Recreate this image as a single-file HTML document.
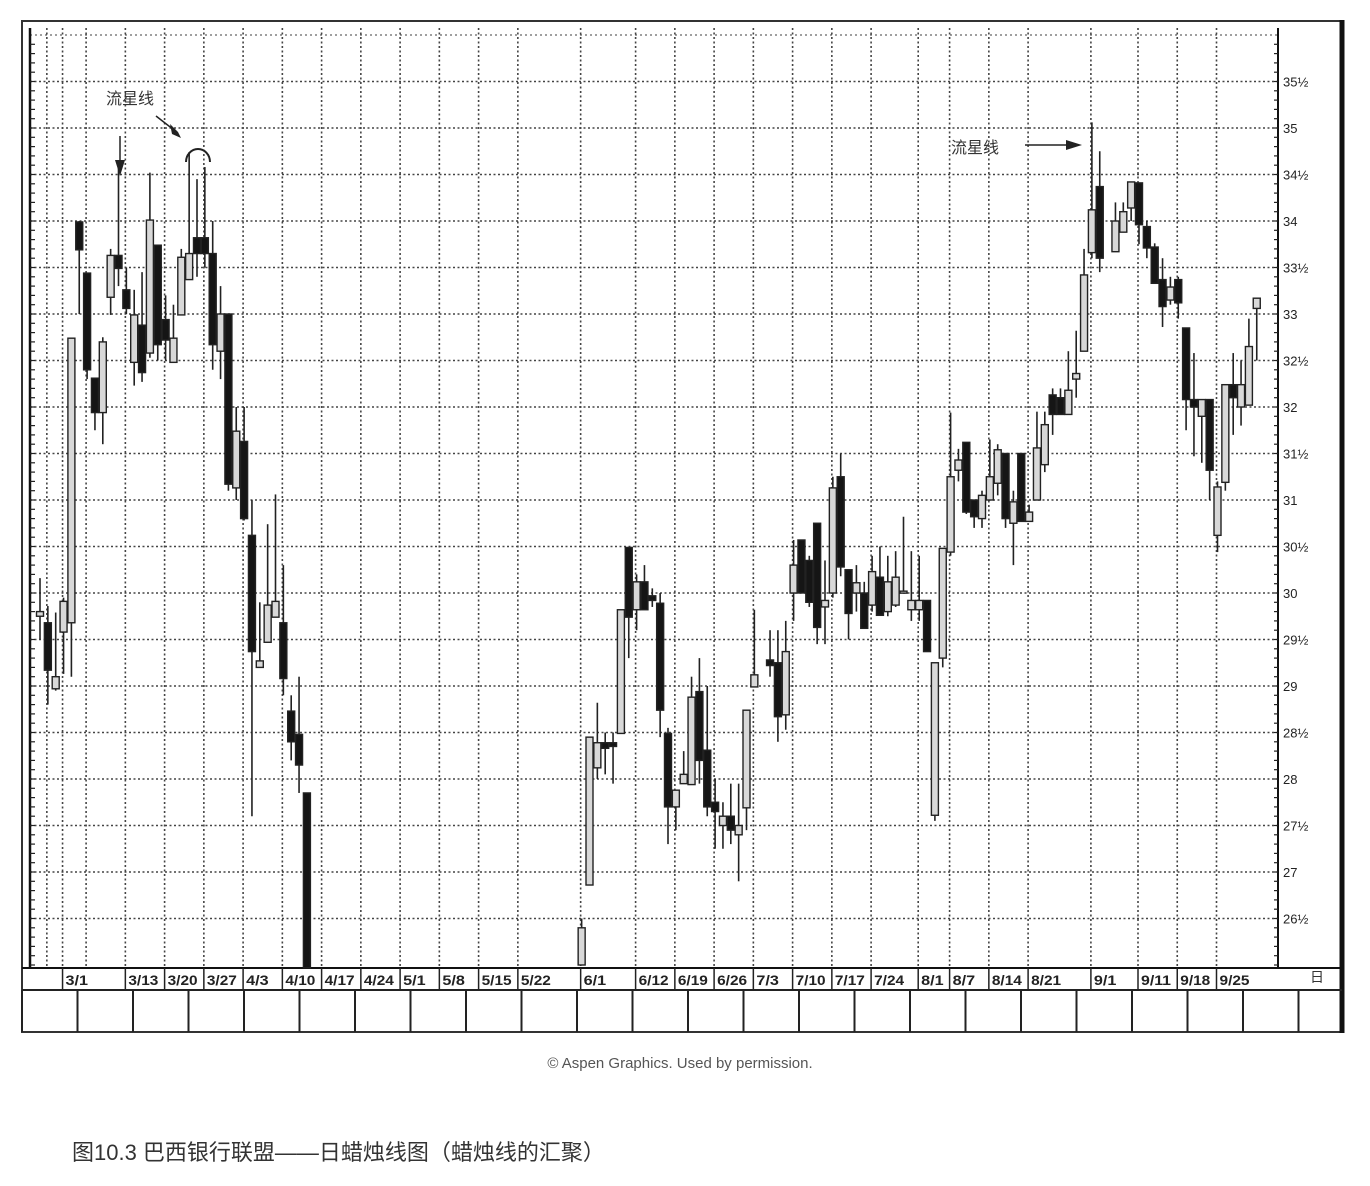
<!DOCTYPE html>
<html><head><meta charset="utf-8">
<style>
html,body{margin:0;padding:0;background:#fff;}
svg{display:block;}
text{font-family:"Liberation Sans","Noto Sans CJK SC",sans-serif;}
</style></head>
<body>
<svg id="chart" width="1370" height="1186" viewBox="0 0 1370 1186">
  <g id="grid"></g>
  <g id="axes"></g>
  <g id="candles"></g>
  <g id="dates"></g>
  <g>
    <text x="106" y="104" font-size="16" fill="#333">流星线</text>
    <line x1="120" y1="136" x2="120" y2="165" stroke="#222" stroke-width="1.5"/>
    <polygon points="115,160 125,160 120,176" fill="#222"/>
    <line x1="156" y1="116" x2="174" y2="130" stroke="#222" stroke-width="1.5"/>
    <polygon points="170,124 178,132 181,138 172,134" fill="#222"/>
    <path d="M186,162 A12,13 0 1 1 210,162" fill="none" stroke="#222" stroke-width="2"/>
  </g>
  <g>
    <text x="951" y="153" font-size="16" fill="#333">流星线</text>
    <line x1="1025" y1="145" x2="1070" y2="145" stroke="#222" stroke-width="1.5"/>
    <polygon points="1066,140 1082,145 1066,150" fill="#222"/>
  </g>
  <text x="680" y="1068" font-size="15" fill="#555" text-anchor="middle">© Aspen Graphics. Used by permission.</text>
  <text x="72" y="1160" font-size="22" fill="#333">图10.3 巴西银行联盟——日蜡烛线图（蜡烛线的汇聚）</text>
</svg>
<script>
const days = [0,1,2,3,4,5,6,7,8,9,10,11,12,13,14,15,16,17,18,19,20,21,22,23,24,25,26,27,28,29,30,31,32,33,34,
69,70,71,72,73,74,75,76,77,78,79,80,81,82,83,84,85,86,87,88,89,90,91,93,94,95,
96,97,98,99,100,101,102,103,104,105,106,107,108,109,110,111,112,113,114,115,116,117,118,119,120,121,122,123,124,125,126,127,128,129,130,131,132,133,134,135,
137,138,139,140,141,142,143,144,145,146,147,148,149,150,151,152,153,154,155];
const opens = [29.75,29.68,28.97,29.58,29.68,33.99,33.44,32.31,31.94,33.18,33.63,33.26,32.48,32.88,32.58,33.74,32.94,32.48,32.99,33.37,33.82,33.82,33.65,32.6,33.0,31.13,31.63,30.62,29.2,29.47,29.74,29.68,28.73,28.48,27.85,
26.0,26.86,28.12,28.39,28.39,28.49,30.49,29.82,30.12,29.97,29.89,28.49,27.7,27.95,27.94,28.94,28.31,27.75,27.5,27.6,27.4,27.69,28.99,29.28,29.25,28.69,
30.0,30.57,30.35,30.75,29.85,30.0,31.25,30.25,30.0,30.0,29.87,30.17,29.8,29.87,30.0,29.82,29.82,29.92,27.61,29.3,30.44,31.32,31.62,31.0,30.8,31.0,31.18,31.5,30.75,31.5,30.77,31.0,31.38,32.13,32.1,31.92,32.3,32.6,33.66,34.37,
33.67,33.88,34.14,34.41,33.94,33.72,33.37,33.15,33.37,32.85,32.08,31.9,32.08,30.62,31.19,32.24,32.0,32.02,33.06];
const highs = [30.16,29.86,29.79,29.95,32.74,34.0,33.44,32.31,32.75,33.7,34.58,33.5,33.26,33.45,34.52,33.74,33.2,33.1,33.7,34.74,34.45,34.58,34.0,33.3,33.0,32.0,32.0,31.0,29.9,30.74,31.06,30.3,28.9,29.1,27.85,
26.5,28.45,28.82,28.5,28.5,29.82,30.49,30.2,30.3,30.05,30.0,28.55,27.88,28.3,29.1,29.3,29.0,28.0,27.75,27.95,27.95,28.74,29.82,29.6,29.6,29.7,
30.57,30.57,30.4,30.75,30.35,31.25,31.5,30.25,30.3,30.12,30.4,30.5,30.4,30.45,30.82,30.45,30.4,29.92,29.25,30.48,31.94,31.55,31.62,31.0,31.1,31.65,31.6,31.5,31.1,31.5,30.95,31.95,31.95,32.2,32.2,32.6,32.82,33.7,35.06,34.75,
34.2,34.2,34.42,34.41,34.0,33.76,33.6,33.4,33.4,32.85,32.58,32.08,32.08,31.2,32.24,32.58,32.5,32.95,33.17];
const lows = [29.5,28.8,28.95,29.13,29.1,33.0,32.3,31.75,31.6,32.99,33.3,33.0,32.23,32.27,32.53,32.5,32.5,32.48,32.99,33.37,33.4,33.5,32.4,32.3,31.1,31.0,30.78,27.6,29.2,29.47,29.74,28.9,28.2,27.85,25.97,
26.0,26.86,28.0,28.05,27.95,28.49,29.3,29.6,29.82,29.85,28.45,27.3,27.45,27.95,27.94,27.95,27.6,27.25,27.25,27.3,26.9,27.45,28.99,29.1,28.4,28.53,
29.7,30.0,29.85,29.45,29.45,29.95,30.18,29.5,29.8,29.62,29.8,29.76,29.75,29.85,30.0,29.7,29.7,29.37,27.55,29.2,30.4,31.2,30.85,30.7,30.7,31.0,31.05,30.7,30.3,30.77,30.77,31.0,31.3,31.7,31.92,31.92,32.1,32.6,33.6,33.45,
33.67,33.88,34.0,33.75,33.6,33.33,32.86,33.1,32.95,31.75,31.47,31.4,31.0,30.44,31.1,31.7,31.8,32.02,32.5];
const closes = [29.8,29.17,29.1,29.91,32.74,33.69,32.4,31.94,32.7,33.63,33.49,33.06,32.99,32.37,34.01,32.67,32.72,32.74,33.61,33.65,33.65,33.65,32.67,33.0,31.17,31.74,30.8,29.37,29.27,29.87,29.91,29.08,28.4,28.15,25.97,
26.4,28.45,28.39,28.33,28.35,29.82,29.74,30.12,29.82,29.92,28.74,27.7,27.88,28.05,28.88,28.2,27.7,27.65,27.6,27.45,27.5,28.74,29.12,29.22,28.67,29.37,
30.3,30.0,29.9,29.63,29.92,31.13,30.28,29.78,30.11,29.62,30.23,29.76,30.12,30.17,30.02,29.92,29.92,29.37,29.25,30.48,31.25,31.43,30.87,30.82,31.05,31.25,31.54,30.8,30.98,30.77,30.87,31.56,31.81,31.92,31.92,32.18,32.36,33.42,34.12,33.6,
34.0,34.1,34.42,33.96,33.71,33.33,33.08,33.29,33.12,32.08,32.0,32.08,31.32,31.14,32.24,32.1,32.24,32.65,33.17];
const yTicks = [26.5,27,27.5,28,28.5,29,29.5,30,30.5,31,31.5,32,32.5,33,33.5,34,34.5,35,35.5];
const yTickLabels = ["26½","27","27½","28","28½","29","29½","30","30½","31","31½","32","32½","33","33½","34","34½","35","35½"];
const dateLabels = ["3/1","3/13","3/20","3/27","4/3","4/10","4/17","4/24","5/1","5/8","5/15","5/22","6/1","6/12","6/19","6/26","7/3","7/10","7/17","7/24","8/1","8/7","8/14","8/21","9/1","9/11","9/18","9/25"];
const dateDays = [3,11,16,21,26,31,36,41,46,51,56,61,69,76,81,86,91,96,101,106,112,116,121,126,134,140,145,150];

const NS="http://www.w3.org/2000/svg";
const PL=30, PR=1278, PT=28, PB=968;
function xScale(d){return 40 + d*7.85;}
function yScale(p){return 128 + (35-p)*93;}
function mk(tag, attrs, parent){const e=document.createElementNS(NS,tag);for(const k in attrs)e.setAttribute(k,attrs[k]);parent.appendChild(e);return e;}

const grid=document.getElementById('grid'), axes=document.getElementById('axes'), cg=document.getElementById('candles'), dg=document.getElementById('dates');

// frame
let r=mk('rect',{x:22,y:21,width:1320,height:1011,fill:'none',stroke:'#333','stroke-width':2},axes);


let rb=mk('line',{x1:1342,y1:20,x2:1342,y2:1033,stroke:'#111','stroke-width':5},axes);



// horizontal grid
for(let i=0;i<yTicks.length;i++){
  const y=yScale(yTicks[i]);
  const l=mk('line',{x1:PL,y1:y,x2:PR,y2:y,stroke:'#444','stroke-width':1.6,'stroke-dasharray':'2 2.5'},grid);
  
  
  const t=mk('text',{x:PR+5,y:y+5,'font-size':13,fill:'#222'},axes);
  t.textContent=yTickLabels[i];
  
  
}
let tl=mk('line',{x1:PL,y1:35,x2:PR,y2:35,stroke:'#666','stroke-width':1.2,'stroke-dasharray':'2 3'},grid);


// vertical grid
const extraDays=[1,6];
const vd=extraDays.concat(dateDays);
for(const d of vd){
  const x=xScale(d)-1;
  const l=mk('line',{x1:x,y1:PT,x2:x,y2:PB,stroke:'#444','stroke-width':1.6,'stroke-dasharray':'2 2.5'},grid);
  
  
}
// axes lines
let la=mk('line',{x1:PL,y1:PT,x2:PL,y2:PB,stroke:'#111','stroke-width':2.5},axes);


let ra=mk('line',{x1:PR,y1:PT,x2:PR,y2:PB,stroke:'#111','stroke-width':2},axes);


let ba=mk('line',{x1:22,y1:PB,x2:1342,y2:PB,stroke:'#111','stroke-width':2},axes);


for(let p=26.0;p<=36;p+=0.1){
  const y=yScale(p); if(y<PT||y>PB) continue;
  const a=mk('line',{x1:PL,y1:y,x2:PL+5,y2:y,stroke:'#222','stroke-width':1.2},axes);
  
  
  const b=mk('line',{x1:PR-4,y1:y,x2:PR,y2:y,stroke:'#222','stroke-width':1.2},axes);
  
  
}

// candles
for(let i=0;i<days.length;i++){
  const x=xScale(days[i]);
  const o=opens[i],c=closes[i],h=highs[i],lo=lows[i];
  const g=mk('g',{},cg);
  
  
  const w=mk('line',{x1:x,y1:Math.max(PT,yScale(h)),x2:x,y2:Math.min(PB,yScale(lo)),stroke:'#222','stroke-width':1.6},g);
  
  
  const top=Math.max(PT,yScale(Math.max(o,c))), bot=Math.min(PB,yScale(Math.min(o,c)));
  const up=c>=o;
  const b=mk('rect',{x:x-3.5,y:top,width:7,height:Math.max(2,bot-top),fill:up?'#d8d8d8':'#151515',stroke:'#222','stroke-width':1.4},g);
  
  
}

// date row
for(let i=0;i<dateLabels.length;i++){
  const x=xScale(dateDays[i])-1;
  const s=mk('line',{x1:x,y1:PB,x2:x,y2:990,stroke:'#222','stroke-width':1.5},dg);
  
  
  const t=mk('text',{x:x+3,y:985,'font-size':14,'font-weight':'bold',fill:'#222',textLength:Math.min(30,dateLabels[i].length*7.5),lengthAdjust:'spacingAndGlyphs'},dg);
  t.textContent=dateLabels[i];
  
  
}
let dt=mk('text',{x:1310,y:982,'font-size':14,fill:'#333'},dg);
dt.textContent='日';


let hl=mk('line',{x1:22,y1:990,x2:1342,y2:990,stroke:'#222','stroke-width':2},dg);


for(let k=0;k<=23;k++){
  const x=22+k*55.5;
  const l=mk('line',{x1:x,y1:990,x2:x,y2:1032,stroke:'#222','stroke-width':2},dg);
  
  
}
</script>
</body></html>
